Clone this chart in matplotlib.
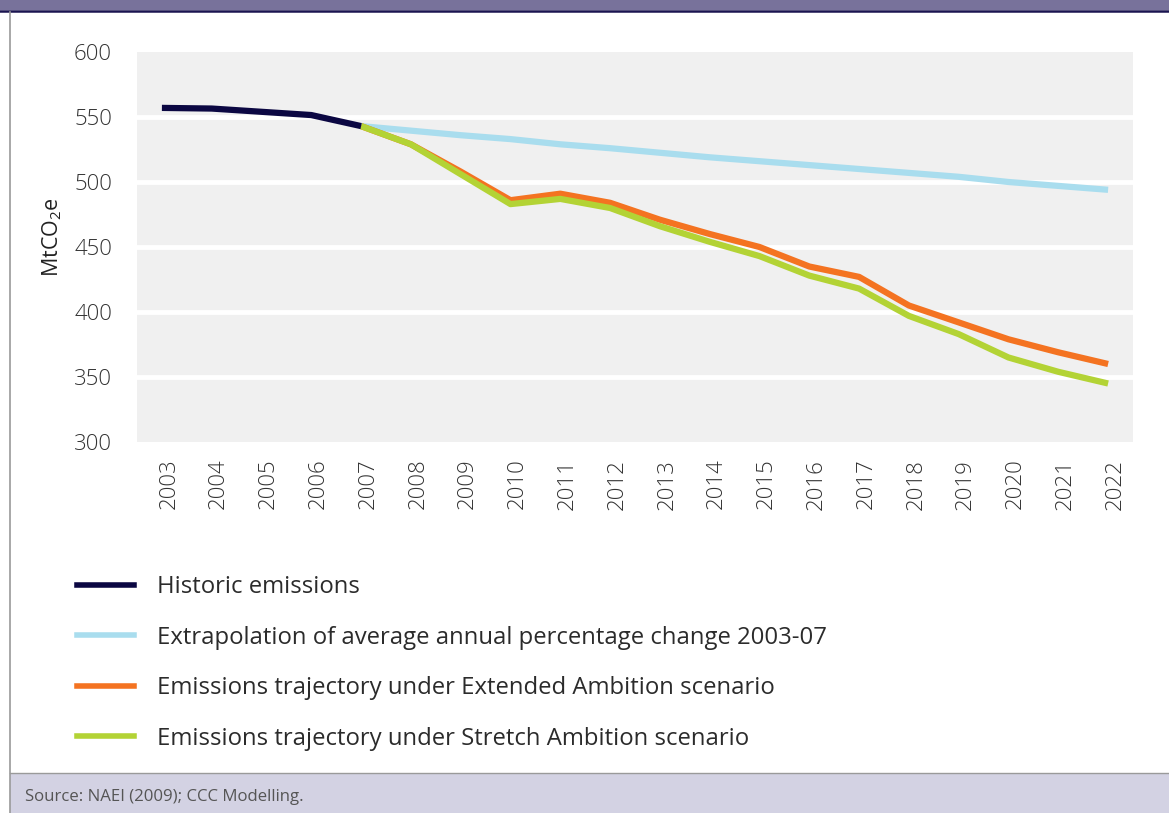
import matplotlib
matplotlib.use("Agg")
import matplotlib.pyplot as plt
import matplotlib.transforms as mtransforms
from matplotlib.patches import Rectangle
from matplotlib.lines import Line2D

plt.rcParams['font.family'] = ['Open Sans', 'DejaVu Sans']
plt.rcParams['mathtext.fontset'] = 'custom'
plt.rcParams['mathtext.rm'] = 'Open Sans'
plt.rcParams['mathtext.it'] = 'Open Sans'

years_hist = [2003, 2004, 2005, 2006, 2007]
historic = [557, 556.5, 554, 551.5, 543]

years_proj = list(range(2007, 2023))
extrapolation = [543, 539.5, 536, 533, 529, 526, 522.5, 519, 516, 513, 510, 507, 504, 500, 497, 494]
extended = [543, 529, 508, 486, 491, 484, 471, 460, 450, 435, 427, 405, 392, 379, 369, 360]
stretch = [543, 529, 506, 483, 487, 480, 466, 454, 443, 428, 418, 397, 383, 365, 354, 345]

xticks = list(range(2003, 2023))
yticks = [300, 350, 400, 450, 500, 550, 600]

labels = ["Historic emissions",
          "Extrapolation of average annual percentage change 2003-07",
          "Emissions trajectory under Extended Ambition scenario",
          "Emissions trajectory under Stretch Ambition scenario"]
c_hist = "#0b0742"
c_extra = "#a9ddee"
c_ext = "#f47321"
c_str = "#b3d335"

W, H = 1169, 813
fig = plt.figure(figsize=(W / 100, H / 100), dpi=100)
fig.patch.set_facecolor("white")

# frame decorations
fig.add_artist(Rectangle((0, 1 - 10 / H), 1, 10 / H, transform=fig.transFigure,
                         facecolor="#78729b", edgecolor="none"))
fig.add_artist(Line2D([0, 1], [1 - 11 / H, 1 - 11 / H], transform=fig.transFigure,
                      color="#1a1450", lw=1.8))
fig.add_artist(Rectangle((10 / W, 0), 1, 40 / H, transform=fig.transFigure,
                         facecolor="#d3d2e3", edgecolor="none"))
fig.add_artist(Line2D([10 / W, 1], [40 / H, 40 / H], transform=fig.transFigure,
                      color="#9a9a9a", lw=1.0))
fig.add_artist(Line2D([10 / W, 10 / W], [0, 1 - 12 / H], transform=fig.transFigure,
                      color="#9a9a9a", lw=1.2))
fig.text(25 / W, 16 / H, "Source: NAEI (2009); CCC Modelling.", fontsize=12.1,
         color="#555555", va="center", ha="left")

ax = fig.add_axes([137 / W, 1 - 442 / H, (1133 - 137) / W, (442 - 52) / H])
ax.set_facecolor("#f0f0f0")
ax.set_xlim(2002.5, 2022.5)
ax.set_ylim(300, 600)
for s in ax.spines.values():
    s.set_visible(False)
ax.set_yticks(yticks)
ax.set_xticks(xticks)
ax.set_xticklabels([str(y) for y in xticks], rotation=90)
ax.tick_params(axis="both", length=0, labelsize=16, colors="#333333")
ax.tick_params(axis="y", pad=18)
ax.tick_params(axis="x", pad=12)
offset = mtransforms.ScaledTranslation(7 / 100, 0, fig.dpi_scale_trans)
for lab in ax.get_xticklabels():
    lab.set_transform(lab.get_transform() + offset)
    lab.set_fontweight("light")
for lab in ax.get_yticklabels():
    lab.set_fontweight("light")
for yv in yticks[1:-1]:
    ax.axhline(yv, color="white", lw=3.5, zorder=1)

lw = 4.5
ax.plot(years_proj, extrapolation, color=c_extra, lw=lw, zorder=3, solid_capstyle="butt", label=labels[1])
ax.plot(years_proj, extended, color=c_ext, lw=lw, zorder=4, solid_capstyle="butt", label=labels[2])
ax.plot(years_proj, stretch, color=c_str, lw=lw, zorder=5, solid_capstyle="butt", label=labels[3])
ax.plot(years_hist, historic, color=c_hist, lw=lw, zorder=6, solid_capstyle="butt", label=labels[0])

ax.set_ylabel(r"$\mathregular{MtCO_2e}$", fontsize=15.5, color="#222222")
ax.yaxis.set_label_coords(-73 / (1133 - 137), 0.525)

handles = [Line2D([], [], color=c, lw=4) for c in (c_hist, c_extra, c_ext, c_str)]
leg = fig.legend(handles, labels, loc="upper left", bbox_to_anchor=(77 / W, 1 - 575 / H),
                 frameon=False, fontsize=17.2, handlelength=2.4, handletextpad=0.93,
                 labelspacing=1.11, borderpad=0, borderaxespad=0)
for t in leg.get_texts():
    t.set_color("#2b2b2b")

fig.savefig("out.png", dpi=100, facecolor="white")
